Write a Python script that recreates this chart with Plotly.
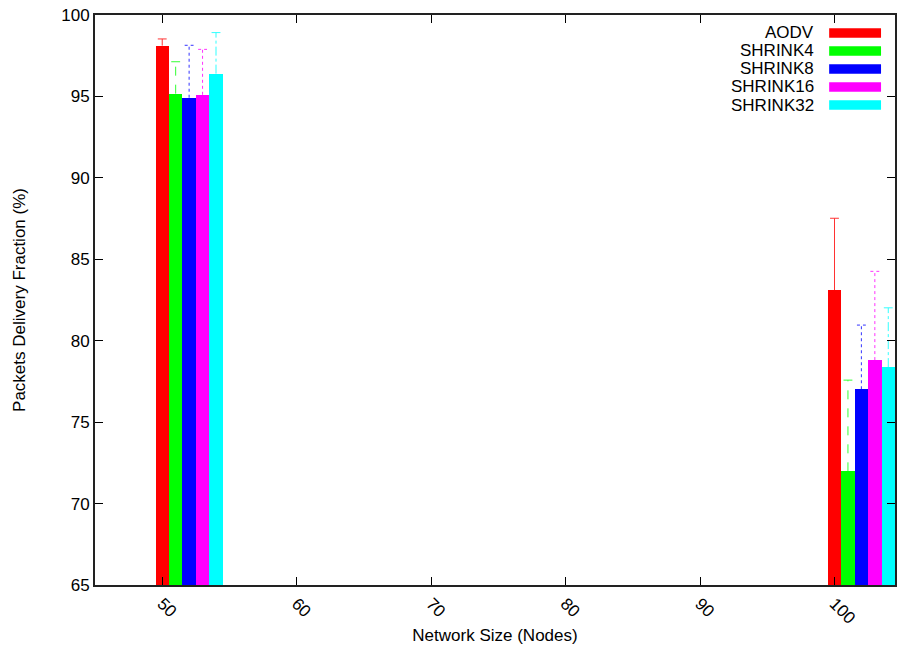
import plotly.graph_objects as go

# ---- data ----
categories = [50, 100]
series_names = ["AODV", "SHRINK4", "SHRINK8", "SHRINK16", "SHRINK32"]
values = {
    "AODV":     [98.12, 83.11],
    "SHRINK4":  [95.17, 71.98],
    "SHRINK8":  [94.92, 77.02],
    "SHRINK16": [95.10, 78.81],
    "SHRINK32": [96.40, 78.38],
}
errors = {
    "AODV":     [0.41, 4.41],
    "SHRINK4":  [1.96, 5.60],
    "SHRINK8":  [3.22, 3.94],
    "SHRINK16": [2.79, 5.45],
    "SHRINK32": [2.52, 3.64],
}
x_ticks = [50, 60, 70, 80, 90, 100]
y_ticks = [65, 70, 75, 80, 85, 90, 95, 100]

colors = ["#ff0000", "#00ff00", "#0000ff", "#ff00ff", "#00ffff"]
err_dash = ["solid", "dash", "dot", "dot", "dashdot"]
FONT = "Liberation Sans, Arial, sans-serif"

fig = go.Figure()
cap = 0.33
for i, name in enumerate(series_names):
    xs = [c + i for c in categories]
    fig.add_trace(go.Bar(x=xs, y=[v - 65 for v in values[name]], base=65, width=1.0,
                         marker=dict(color=colors[i], line=dict(width=0)),
                         name=name, showlegend=False))
for i, name in enumerate(series_names):
    ex, ey = [], []
    for c, v, e in zip(categories, values[name], errors[name]):
        x = c + i
        ex += [x, x, None, x - cap, x + cap, None]
        ey += [v, v + e, None, v + e, v + e, None]
    fig.add_trace(go.Scatter(x=ex, y=ey, mode="lines", showlegend=False,
                             line=dict(color=colors[i], width=1, dash=err_dash[i]),
                             opacity=0.8, hoverinfo="skip"))

# manual gnuplot-style legend (text right, swatch on the right)
L, R, T, B = 95, 1, 15, 67
W, H = 898 - L - R, 652 - T - B
def px(x): return (x - L) / W
def py(y): return 1 - (y - T) / H
for i, name in enumerate(series_names):
    yc = 33 + 18 * i
    fig.add_annotation(x=px(818), y=py(yc), xref="paper", yref="paper", text=name,
                       showarrow=False, xanchor="right", yanchor="middle",
                       font=dict(family=FONT, size=17, color="#000"))
    fig.add_shape(type="rect", xref="paper", yref="paper",
                  x0=px(831), x1=px(883), y0=py(yc - 4.7), y1=py(yc + 4.7),
                  fillcolor=colors[i], line=dict(width=0))

fig.update_layout(
    width=898, height=652,
    margin=dict(l=L, r=R, t=T, b=B),
    plot_bgcolor="white", paper_bgcolor="white",
    font=dict(family=FONT, size=17, color="#000"),
    bargap=0,
)
fig.update_xaxes(range=[45, 104.5], tickvals=x_ticks, ticktext=[str(t) for t in x_ticks],
                 tickangle=45, ticks="inside", ticklen=8, tickcolor="#000",
                 showline=True, mirror="ticks", linecolor="#222", linewidth=2,
                 showgrid=False, zeroline=False,
                 title=dict(text="Network Size (Nodes)", standoff=2, font=dict(size=17)))
fig.update_yaxes(range=[65, 100], tickvals=y_ticks, ticks="inside", ticklen=8, tickcolor="#000",
                 showline=True, mirror="ticks", linecolor="#222", linewidth=2,
                 showgrid=False, zeroline=False,
                 title=dict(text="Packets Delivery Fraction (%)", standoff=31, font=dict(size=17)))

fig.write_html("out.html")
